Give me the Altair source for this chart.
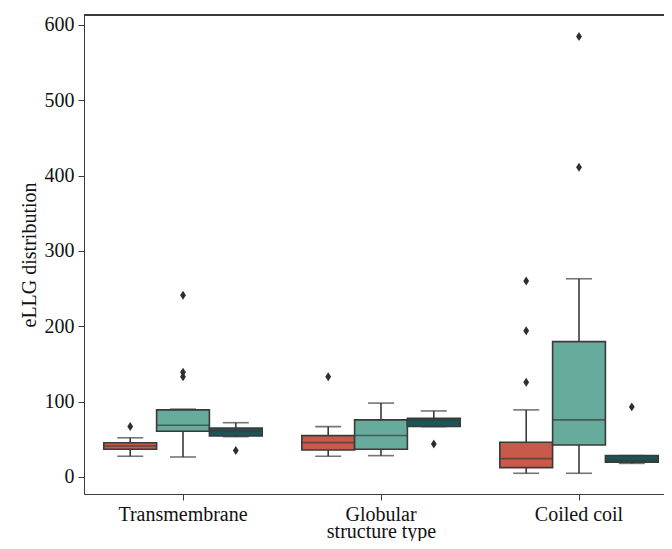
import altair as alt
import pandas as pd

categories = ["Transmembrane", "Globular", "Coiled coil"]
groups = ["Group 1", "Group 2", "Group 3"]
colors = ["#c95a4b", "#66ab9b", "#1d5557"]

# per category, per group (order: groups)
whisk_lo = [[27.5, 26.5, 53.5], [27.4, 28.3, 66.8], [4.9, 4.9, 18.0]]
q1 = [[36.7, 60.6, 54.4], [35.8, 36.7, 67.0], [12.4, 42.5, 19.5]]
median = [[41.0, 68.6, 61.5], [45.6, 55.0, 76.0], [24.3, 75.7, 22.0]]
q3 = [[45.5, 89.0, 65.0], [54.9, 75.7, 78.0], [46.0, 179.6, 28.3]]
whisk_hi = [[52.0, 90.0, 72.0], [66.8, 98.0, 87.6], [89.0, 263.0, 28.3]]
outliers = [
    [[67.0], [133.0, 139.0, 241.0], [35.0]],
    [[133.0], [], [43.8]],
    [[125.7, 194.0, 260.0], [411.0, 584.5], [93.0]],
]

rows = []
out_rows = []
for i, c in enumerate(categories):
    for j, g in enumerate(groups):
        rows.append(dict(cat=c, grp=g, lo=whisk_lo[i][j], q1=q1[i][j], med=median[i][j],
                         q3=q3[i][j], hi=whisk_hi[i][j]))
        for v in outliers[i][j]:
            out_rows.append(dict(cat=c, grp=g, val=v))
stats = pd.DataFrame(rows)
outs = pd.DataFrame(out_rows)

FONT = "Liberation Serif"
EDGE = "#3a3a3a"

xscale = alt.Scale(domain=categories, range=[0, 594], paddingInner=0.2, paddingOuter=0.1)
yscale = alt.Scale(domain=[-22.6, 613], nice=False, zero=False)
offscale = alt.Scale(domain=groups, paddingInner=0, paddingOuter=0)
colscale = alt.Scale(domain=groups, range=colors)

x_enc = alt.X("cat:N", scale=xscale, sort=categories, title="structure type",
              axis=alt.Axis(labelAngle=0, tickSize=6, labelPadding=4, titlePadding=-3,
                            domainColor=EDGE, tickColor=EDGE, labelFont=FONT, titleFont=FONT,
                            labelFontSize=20, titleFontSize=20, titleFontWeight="normal",
                            labelColor="#111", titleColor="#111", grid=False))
xo_enc = alt.XOffset("grp:N", scale=offscale, sort=groups)

base = alt.Chart(stats)

whisk = base.mark_rule(color=EDGE, strokeWidth=1.6).encode(
    x=x_enc, xOffset=xo_enc,
    y=alt.Y("lo:Q", scale=yscale, title="eLLG distribution",
            axis=alt.Axis(values=[0, 100, 200, 300, 400, 500, 600], tickSize=6, labelPadding=4,
                          titlePadding=5, domainColor=EDGE, tickColor=EDGE, labelFont=FONT,
                          titleFont=FONT, labelFontSize=20, titleFontSize=20,
                          titleFontWeight="normal", labelColor="#111", titleColor="#111",
                          grid=False)),
    y2="hi:Q",
)

cap_lo = base.mark_tick(color=EDGE, size=26, thickness=1.6, orient="horizontal").encode(
    x=x_enc, xOffset=xo_enc, y=alt.Y("lo:Q", scale=yscale))
cap_hi = base.mark_tick(color=EDGE, size=26, thickness=1.6, orient="horizontal").encode(
    x=x_enc, xOffset=xo_enc, y=alt.Y("hi:Q", scale=yscale))

box = base.mark_bar(stroke=EDGE, strokeWidth=1.6).encode(
    x=x_enc, xOffset=xo_enc,
    y=alt.Y("q1:Q", scale=yscale), y2="q3:Q",
    color=alt.Color("grp:N", scale=colscale, legend=None),
)

med = base.mark_tick(color=EDGE, size=52, thickness=1.6, orient="horizontal").encode(
    x=x_enc, xOffset=xo_enc, y=alt.Y("med:Q", scale=yscale))

pts = alt.Chart(outs).mark_point(
    shape="M0,-1L0.65,0L0,1L-0.65,0Z", filled=True, color="#2e2e2e", opacity=1, size=80
).encode(x=x_enc, xOffset=xo_enc, y=alt.Y("val:Q", scale=yscale))

top_border = alt.Chart(stats).mark_rule(color=EDGE, strokeWidth=1).encode(
    x=alt.value(0), x2=alt.value(594), y=alt.value(0))

chart = alt.layer(whisk, cap_lo, cap_hi, box, med, pts, top_border).properties(
    width=580, height=479,
    autosize=alt.AutoSizeParams(type="none"),
    padding={"left": 76, "top": 7, "right": 0, "bottom": 47},
).configure_view(strokeOpacity=0, strokeWidth=0).configure(background="white")

chart.save("out.html", embed_options={"renderer": "svg", "actions": False})
